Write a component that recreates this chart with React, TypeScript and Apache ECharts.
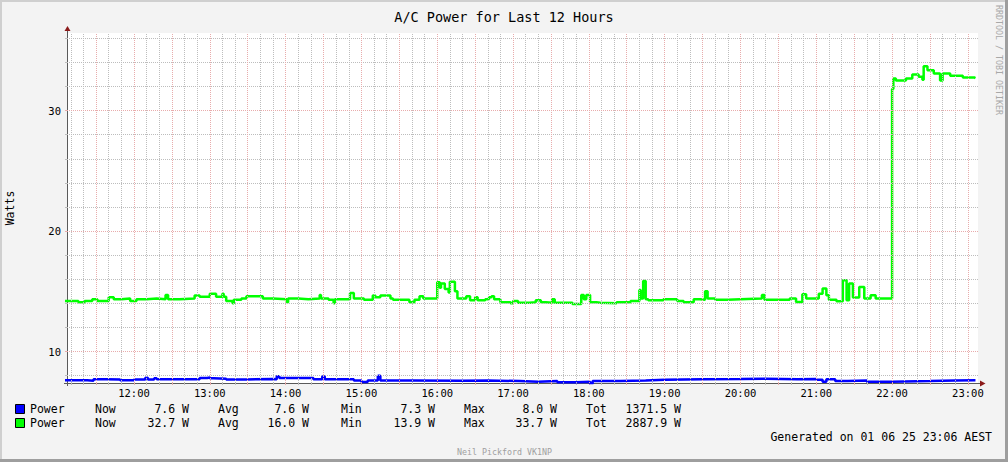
import React, { useEffect, useRef } from 'react';
import * as echarts from 'echarts';

const TITLE = 'A/C Power for Last 12 Hours';
const Y_NAME = 'Watts';
const X_START = '11:07';
const X_END = '23:08';
const HOUR_LABELS = ['12:00', '13:00', '14:00', '15:00', '16:00', '17:00', '18:00', '19:00', '20:00', '21:00', '22:00', '23:00'];
const Y_MIN = 7.39;
const Y_MAX = 36.44;
const Y_MAJOR = [10, 20, 30];
const Y_MINOR = [8, 12, 14, 16, 18, 22, 24, 26, 28, 32, 34, 36];

const blueTimes = ['11:05', '11:23', '11:28', '11:38', '11:49', '12:00', '12:09', '12:11', '12:16', '12:18', '12:52', '12:58', '13:00', '13:03', '13:13', '13:29', '13:50', '13:53', '13:55', '14:22', '14:29', '14:31', '14:54', '15:00', '15:05', '15:13', '15:15', '15:40', '16:20', '16:40', '17:05', '17:20', '17:35', '17:50', '18:01', '18:03', '18:25', '18:45', '19:00', '19:30', '20:00', '20:20', '20:45', '21:00', '21:05', '21:08', '21:15', '21:25', '21:40', '22:00', '22:30', '22:50', '23:06'];
const blueValues = [7.62, 7.58, 7.7, 7.68, 7.62, 7.68, 7.82, 7.68, 7.78, 7.7, 7.8, 7.85, 7.78, 7.74, 7.68, 7.72, 7.7, 7.95, 7.8, 7.7, 7.92, 7.7, 7.6, 7.48, 7.6, 8.0, 7.6, 7.58, 7.6, 7.55, 7.5, 7.55, 7.45, 7.5, 7.3, 7.55, 7.6, 7.65, 7.7, 7.72, 7.75, 7.7, 7.72, 7.65, 7.5, 7.7, 7.55, 7.6, 7.5, 7.55, 7.6, 7.62, 7.6];

const greenTimes = ['11:05', '11:16', '11:21', '11:27', '11:31', '11:40', '11:44', '11:50', '11:57', '12:02', '12:10', '12:18', '12:25', '12:27', '12:36', '12:48', '12:52', '13:00', '13:05', '13:10', '13:11', '13:13', '13:18', '13:19', '13:25', '13:29', '13:42', '13:50', '14:01', '14:02', '14:10', '14:18', '14:27', '14:28', '14:34', '14:38', '14:39', '14:51', '14:54', '15:02', '15:09', '15:11', '15:15', '15:23', '15:25', '15:38', '15:42', '15:46', '15:49', '16:00', '16:02', '16:03', '16:06', '16:09', '16:10', '16:14', '16:16', '16:23', '16:26', '16:30', '16:32', '16:38', '16:41', '16:43', '16:45', '16:50', '16:58', '17:00', '17:04', '17:13', '17:18', '17:22', '17:26', '17:31', '17:33', '17:47', '17:54', '17:56', '17:58', '18:01', '18:06', '18:09', '18:22', '18:33', '18:40', '18:41', '18:43', '18:45', '18:47', '18:59', '19:10', '19:15', '19:23', '19:28', '19:32', '19:34', '19:40', '19:50', '20:00', '20:17', '20:19', '20:39', '20:44', '20:49', '20:52', '21:02', '21:05', '21:08', '21:10', '21:16', '21:21', '21:24', '21:26', '21:29', '21:34', '21:38', '21:43', '21:47', '22:00', '22:01', '22:03', '22:11', '22:16', '22:21', '22:24', '22:25', '22:28', '22:33', '22:38', '22:40', '22:46', '22:56', '23:05', '23:06'];
const greenValues = [14.2, 14.1, 14.2, 14.35, 14.2, 14.5, 14.35, 14.4, 14.2, 14.35, 14.4, 14.35, 14.7, 14.35, 14.4, 14.65, 14.55, 14.8, 14.55, 14.8, 14.55, 14.2, 14.0, 14.3, 14.4, 14.6, 14.4, 14.35, 14.1, 14.4, 14.35, 14.4, 14.7, 14.4, 14.3, 14.0, 14.35, 14.85, 14.4, 14.3, 14.65, 14.5, 14.65, 14.4, 14.3, 14.1, 14.3, 14.6, 14.4, 15.75, 15.3, 15.65, 15.2, 14.9, 15.8, 15.0, 14.4, 14.6, 14.25, 14.5, 14.25, 14.35, 14.5, 14.6, 14.35, 14.1, 14.0, 14.2, 14.05, 14.1, 14.25, 14.1, 14.05, 14.35, 14.05, 13.95, 14.7, 14.35, 14.7, 14.1, 14.05, 14.0, 14.1, 14.2, 15.1, 14.4, 15.85, 14.35, 14.25, 14.35, 14.2, 14.1, 14.35, 14.3, 15.0, 14.4, 14.3, 14.35, 14.4, 14.7, 14.3, 14.4, 14.12, 14.75, 14.4, 14.8, 15.23, 14.67, 14.31, 14.17, 15.92, 14.26, 15.64, 14.48, 15.36, 14.4, 14.67, 14.4, 31.8, 32.66, 32.5, 32.66, 33.0, 32.8, 32.57, 33.68, 33.35, 33.07, 32.5, 33.07, 32.9, 32.75, 32.7, 32.7];

const legendNames = ['Power', 'Power'];
const legendColors = ['#0000ff', '#00ff00'];
const nowValues = ['7.6 W', '32.7 W'];
const avgValues = ['7.6 W', '16.0 W'];
const minValues = ['7.3 W', '13.9 W'];
const maxValues = ['8.0 W', '33.7 W'];
const totValues = ['1371.5 W', '2887.9 W'];
const GENERATED = 'Generated on 01 06 25 23:06 AEST';
const CREDIT = 'Neil Pickford VK1NP';
const WATERMARK = 'RRDTOOL / TOBI OETIKER';

const MONO = "'DejaVu Sans Mono', monospace";
const GREY_GRID = '#bdbdbd';
const RED_GRID = '#e8acac';
const AXIS_COLOR = '#5a5a5a';
const ARROW_COLOR = '#8b1a1a';

const toMin = (s: string) => {
  const [h, m] = s.split(':').map(Number);
  return h * 60 + m;
};

export default function App() {
  const ref = useRef<HTMLDivElement>(null);

  useEffect(() => {
    document.body.style.margin = '0';
    if (!ref.current) return;
    const chart = echarts.init(ref.current, undefined, { renderer: 'svg' });

    const xMin = toMin(X_START);
    const xMax = toMin(X_END);
    const minorX: number[] = [];
    const majorX: number[] = [];
    for (let t = Math.ceil(xMin / 10) * 10; t <= xMax; t += 10) {
      if (t % 30 === 0) majorX.push(t);
      else minorX.push(t);
    }
    const hourVals = HOUR_LABELS.map(toMin);

    const blueData = blueTimes.map((t, i) => [toMin(t), blueValues[i]]);
    const greenData = greenTimes.map((t, i) => [toMin(t), greenValues[i]]);

    const gridLineSeries = (color: string, xs: number[], ys: number[], z: number) => ({
      type: 'line',
      data: [],
      silent: true,
      z,
      markLine: {
        silent: true,
        symbol: 'none',
        animation: false,
        label: { show: false },
        emphasis: { disabled: true },
        lineStyle: { color, type: [1, 1], width: 1 },
        data: [...xs.map((v) => ({ xAxis: v })), ...ys.map((v) => ({ yAxis: v }))],
      },
    });

    const legendGraphics: any[] = [];
    const rowY = [409, 423];
    legendNames.forEach((name, i) => {
      const y = rowY[i];
      const txt = (text: string, x: number, align: string) => ({
        type: 'text',
        x,
        y,
        style: { text, font: `11.5px ${MONO}`, fill: '#000', align, verticalAlign: 'middle' },
      });
      legendGraphics.push({
        type: 'rect',
        shape: { x: 15.5, y: y - 4.5, width: 9, height: 9 },
        style: { fill: legendColors[i], stroke: '#000', lineWidth: 1 },
      });
      legendGraphics.push(txt(name, 30, 'left'));
      legendGraphics.push(txt('Now', 95, 'left'));
      legendGraphics.push(txt(nowValues[i], 189, 'right'));
      legendGraphics.push(txt('Avg', 218, 'left'));
      legendGraphics.push(txt(avgValues[i], 309, 'right'));
      legendGraphics.push(txt('Min', 341, 'left'));
      legendGraphics.push(txt(minValues[i], 435, 'right'));
      legendGraphics.push(txt('Max', 464, 'left'));
      legendGraphics.push(txt(maxValues[i], 557, 'right'));
      legendGraphics.push(txt('Tot', 586, 'left'));
      legendGraphics.push(txt(totValues[i], 681, 'right'));
    });

    const option: any = {
      animation: false,
      backgroundColor: '#f3f3f3',
      title: {
        text: TITLE,
        left: 'center',
        top: 5,
        textStyle: { fontFamily: MONO, fontSize: 13.5, fontWeight: 'normal', color: '#000' },
      },
      grid: {
        left: 67,
        top: 33,
        width: 911,
        height: 350,
        show: true,
        backgroundColor: '#ffffff',
        borderWidth: 0,
        containLabel: false,
      },
      xAxis: [
        {
          type: 'value',
          min: xMin,
          max: xMax,
          axisLine: { show: false },
          axisLabel: { show: false },
          axisTick: { show: true, customValues: minorX, length: 2, lineStyle: { color: GREY_GRID } },
          splitLine: { show: false },
        },
        {
          type: 'value',
          min: xMin,
          max: xMax,
          position: 'bottom',
          axisLine: { show: true, onZero: false, lineStyle: { color: AXIS_COLOR, width: 1 } },
          axisTick: { show: true, customValues: majorX, length: 2, lineStyle: { color: RED_GRID } },
          axisLabel: {
            show: true,
            customValues: hourVals,
            formatter: (v: number) => {
              const idx = hourVals.indexOf(Math.round(v));
              return idx >= 0 ? HOUR_LABELS[idx] : '';
            },
            fontFamily: MONO,
            fontSize: 10.5,
            color: '#000',
            margin: 4,
          },
          splitLine: { show: false },
        },
      ],
      yAxis: [
        {
          type: 'value',
          min: Y_MIN,
          max: Y_MAX,
          axisLine: { show: false },
          axisLabel: { show: false },
          axisTick: { show: true, customValues: Y_MINOR, length: 2, lineStyle: { color: GREY_GRID } },
          splitLine: { show: false },
        },
        {
          type: 'value',
          min: Y_MIN,
          max: Y_MAX,
          position: 'left',
          axisLine: { show: true, onZero: false, lineStyle: { color: AXIS_COLOR, width: 1 } },
          axisTick: { show: true, customValues: Y_MAJOR, length: 2, lineStyle: { color: RED_GRID } },
          axisLabel: {
            show: true,
            customValues: Y_MAJOR,
            fontFamily: MONO,
            fontSize: 10.5,
            color: '#000',
            margin: 6,
          },
          splitLine: { show: false },
        },
      ],
      series: [
        gridLineSeries(GREY_GRID, minorX, Y_MINOR, 1),
        gridLineSeries(RED_GRID, majorX, Y_MAJOR, 1.5),
        {
          name: 'Power (blue)',
          type: 'line',
          step: 'end',
          xAxisIndex: 0,
          yAxisIndex: 0,
          data: blueData,
          showSymbol: false,
          symbol: 'none',
          lineStyle: { color: '#0000ff', width: 2.5 },
          z: 3,
        },
        {
          name: 'Power (green)',
          type: 'line',
          step: 'end',
          xAxisIndex: 0,
          yAxisIndex: 0,
          data: greenData,
          showSymbol: false,
          symbol: 'none',
          lineStyle: { color: '#00ff00', width: 2.5 },
          z: 3,
        },
      ],
      graphic: [
        { type: 'rect', shape: { x: 0, y: 0, width: 1008, height: 2 }, style: { fill: '#cfcfcf' } },
        { type: 'rect', shape: { x: 0, y: 0, width: 2, height: 462 }, style: { fill: '#cfcfcf' } },
        { type: 'rect', shape: { x: 1005, y: 0, width: 3, height: 462 }, style: { fill: '#9e9e9e' } },
        { type: 'rect', shape: { x: 0, y: 459, width: 1008, height: 3 }, style: { fill: '#9e9e9e' } },
        { type: 'line', shape: { x1: 67.5, y1: 29, x2: 67.5, y2: 33 }, style: { stroke: AXIS_COLOR, lineWidth: 1 } },
        { type: 'line', shape: { x1: 67.5, y1: 383, x2: 67.5, y2: 386 }, style: { stroke: AXIS_COLOR, lineWidth: 1 } },
        { type: 'line', shape: { x1: 64, y1: 383.5, x2: 67, y2: 383.5 }, style: { stroke: AXIS_COLOR, lineWidth: 1 } },
        { type: 'line', shape: { x1: 978, y1: 383.5, x2: 981, y2: 383.5 }, style: { stroke: AXIS_COLOR, lineWidth: 1 } },
        { type: 'polygon', shape: { points: [[64.5, 31], [70.5, 31], [67.5, 26]] }, style: { fill: ARROW_COLOR } },
        { type: 'polygon', shape: { points: [[980, 380.5], [980, 386.5], [985.5, 383.5]] }, style: { fill: ARROW_COLOR } },
        {
          type: 'text',
          x: 10,
          y: 208,
          rotation: Math.PI / 2,
          style: { text: Y_NAME, font: `11.5px ${MONO}`, fill: '#000', align: 'center', verticalAlign: 'middle' },
        },
        {
          type: 'text',
          x: 999,
          y: 5,
          rotation: -Math.PI / 2,
          style: { text: WATERMARK, font: `8.3px ${MONO}`, fill: '#a8a8a8', align: 'left', verticalAlign: 'middle' },
        },
        ...legendGraphics,
        {
          type: 'text',
          x: 992,
          y: 437,
          style: { text: GENERATED, font: `11.5px ${MONO}`, fill: '#000', align: 'right', verticalAlign: 'middle' },
        },
        {
          type: 'text',
          x: 504.5,
          y: 451.5,
          style: { text: CREDIT, font: `8.3px ${MONO}`, fill: '#a0a0a0', align: 'center', verticalAlign: 'middle' },
        },
      ],
    };

    chart.setOption(option);
    return () => chart.dispose();
  }, []);

  return <div ref={ref} style={{ width: 1008, height: 462 }} />;
}
